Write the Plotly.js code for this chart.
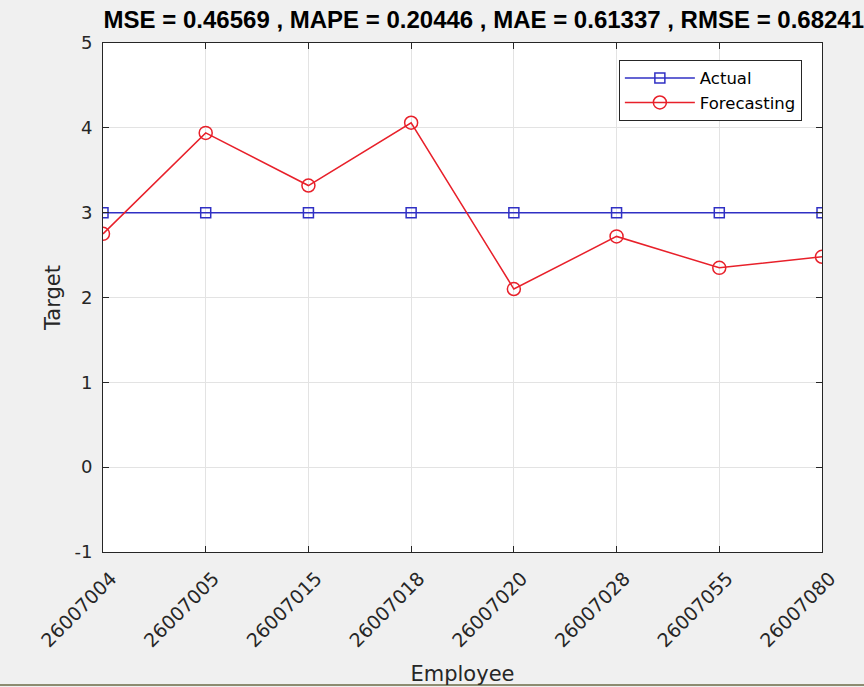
<!DOCTYPE html>
<html>
<head>
<meta charset="utf-8">
<script src="https://cdn.plot.ly/plotly-3.0.1.min.js"></script>
<style>
html,body{margin:0;padding:0;background:#f0f0f0;}
#chart{width:864px;height:687px;}
</style>
</head>
<body>
<div id="chart"></div>
<script>
const employees = ["26007004","26007005","26007015","26007018","26007020","26007028","26007055","26007080"];
const actual = [3, 3, 3, 3, 3, 3, 3, 3];
const forecasting = [2.75, 3.94, 3.32, 4.06, 2.10, 2.72, 2.35, 2.48];
const yTickVals = [-1, 0, 1, 2, 3, 4, 5];
const yTickText = ["-1", "0", "1", "2", "3", "4", "5"];
const titleText = "MSE = 0.46569 , MAPE = 0.20446 , MAE = 0.61337 , RMSE = 0.68241";

const idx = employees.map((_, i) => i);

const traces = [
  {
    x: idx, y: actual, name: "Actual", type: "scatter", mode: "lines+markers",
    line: {color: "#3030c4", width: 1.5},
    marker: {symbol: "square-open", size: 10, color: "#3030c4", line: {width: 1.5, color: "#3030c4"}}
  },
  {
    x: idx, y: forecasting, name: "Forecasting", type: "scatter", mode: "lines+markers",
    line: {color: "#e8202a", width: 1.5},
    marker: {symbol: "circle-open", size: 13, color: "#e8202a", line: {width: 1.5, color: "#e8202a"}}
  }
];

const tfont = "Liberation Sans, Arial, Helvetica, sans-serif";
const font = "DejaVu Sans, sans-serif";

const layout = {
  width: 864, height: 687,
  paper_bgcolor: "#f0f0f0",
  plot_bgcolor: "#ffffff",
  margin: {l: 103, r: 42, t: 43, b: 135},
  font: {family: font, size: 18, color: "#262626"},
  title: {text: "<b>" + titleText + "</b>", xref: "container", x: 0.56, xanchor: "center", y: 0.971, yanchor: "middle",
          font: {family: tfont, size: 24, color: "#000000"}},
  showlegend: true,
  legend: {x: 0.972, xanchor: "right", y: 0.967, yanchor: "top",
           bgcolor: "#ffffff", bordercolor: "#262626", borderwidth: 1,
           font: {family: font, size: 16.5, color: "#000000"}, itemwidth: 70, tracegroupgap: 0},
  xaxis: {
    range: [0, 7], tickvals: idx, ticktext: employees, tickangle: -45,
    showgrid: true, gridcolor: "#e3e3e3", gridwidth: 1,
    zeroline: false, showline: true, linecolor: "#262626", linewidth: 1, mirror: "ticks",
    ticks: "inside", ticklen: 6, tickcolor: "#262626",
    ticklabelstandoff: 7, ticklabelshift: 8,
    tickfont: {family: font, size: 19, color: "#262626"},
    title: {text: "Employee", font: {family: font, size: 21, color: "#262626"}, standoff: 16}
  },
  yaxis: {
    range: [-1, 5], tickvals: yTickVals, ticktext: yTickText,
    showgrid: true, gridcolor: "#e3e3e3", gridwidth: 1,
    zeroline: false, showline: true, linecolor: "#262626", linewidth: 1, mirror: "ticks",
    ticks: "inside", ticklen: 6, tickcolor: "#262626",
    ticklabelstandoff: 6,
    tickfont: {family: font, size: 18, color: "#262626"},
    title: {text: "Target", font: {family: font, size: 21, color: "#262626"}, standoff: 8}
  },
  shapes: [
    {type: "line", xref: "paper", yref: "paper", x0: -0.2, x1: 1.1, y0: -0.2613, y1: -0.2613,
     line: {color: "#8c8c70", width: 2}}
  ]
};

Plotly.newPlot("chart", traces, layout, {displayModeBar: false, staticPlot: true});
</script>
</body>
</html>
